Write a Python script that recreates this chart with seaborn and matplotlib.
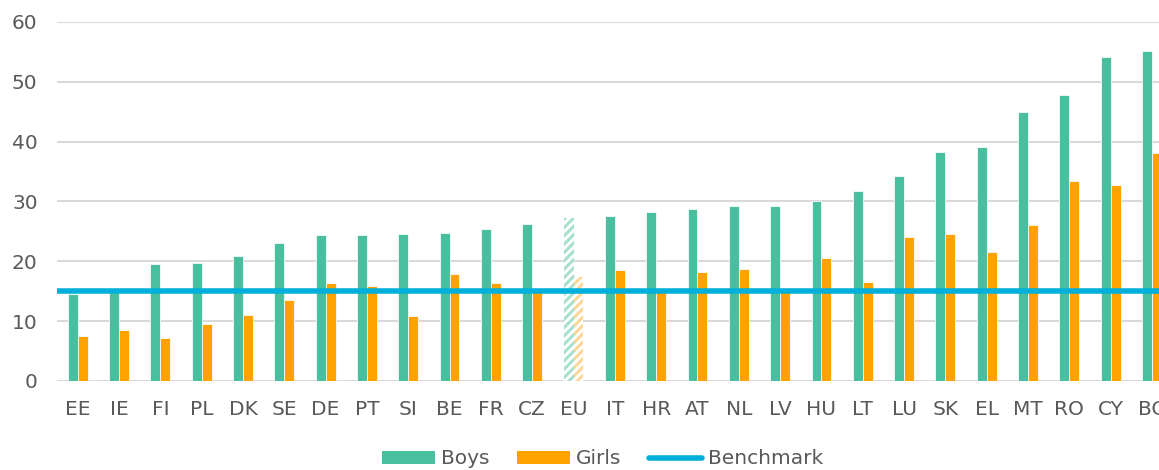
import matplotlib
matplotlib.use("Agg")
import matplotlib.pyplot as plt
from matplotlib.patches import Patch
from matplotlib.lines import Line2D
import seaborn as sns
import pandas as pd

# Share of low achievers by country and sex (%)
countries = ["EE", "IE", "FI", "PL", "DK", "SE", "DE", "PT", "SI", "BE", "FR", "CZ", "EU",
             "IT", "HR", "AT", "NL", "LV", "HU", "LT", "LU", "SK", "EL", "MT", "RO", "CY", "BG"]
boys = [14.5, 14.8, 19.6, 19.7, 20.9, 23.1, 24.4, 24.4, 24.6, 24.7, 25.4, 26.3, 27.3,
        27.6, 28.2, 28.8, 29.3, 29.3, 30.0, 31.7, 34.2, 38.3, 39.1, 44.9, 47.8, 54.2, 55.1]
girls = [7.6, 8.5, 7.2, 9.6, 11.0, 13.5, 16.3, 15.9, 10.8, 17.8, 16.3, 14.8, 17.4,
         18.6, 14.8, 18.2, 18.7, 15.6, 20.5, 16.5, 24.1, 24.5, 21.5, 26.0, 33.4, 32.7, 38.1]
benchmark = 15
series_names = ["Boys", "Girls"]
y_ticks = [0, 10, 20, 30, 40, 50, 60]

BOYS_C = "#48BF9F"
GIRLS_C = "#FFA200"
BENCH_C = "#00B0DA"
TEXT_C = "#595959"
GRID_C = "#D9D9D9"

df = pd.DataFrame({
    "country": countries * 2,
    "value": boys + girls,
    "sex": [series_names[0]] * len(countries) + [series_names[1]] * len(countries),
})

sns.set_style("white")
plt.rcParams["font.family"] = ["DejaVu Sans"]
plt.rcParams["hatch.linewidth"] = 2.2

fig = plt.figure(figsize=(11.59, 4.70), dpi=100)
# axes run slightly past the right edge of the figure
ax = fig.add_axes([0.0492, 0.1894, 0.9626, 0.7638])

sns.barplot(data=df, x="country", y="value", hue="sex", order=countries,
            hue_order=series_names, palette=[BOYS_C, GIRLS_C], saturation=1,
            width=0.48, gap=0, dodge=True, errorbar=None, legend=False,
            edgecolor="#F4FBF9", linewidth=0.6, ax=ax, zorder=2)

# EU average bars drawn as light hatched bars
eu_idx = countries.index("EU")
n = len(countries)
light = ["#A8E0D0", "#FFD699"]
for k, cont in enumerate(ax.containers):
    bar = cont.patches[eu_idx]
    bar.set_facecolor("white")
    bar.set_edgecolor(light[k])
    bar.set_linewidth(0)
    bar.set_hatch("////")

ax.axhline(benchmark, color=BENCH_C, linewidth=4, zorder=3)

ax.set_ylim(0, 60)
ax.set_xlim(-0.5, n - 0.5)
ax.set_yticks(y_ticks)
ax.yaxis.grid(True, color=GRID_C, linewidth=1.5, zorder=0)
ax.xaxis.grid(False)
ax.set_axisbelow(True)
for s in ax.spines.values():
    s.set_visible(False)
ax.set_xlabel("")
ax.set_ylabel("")
ax.tick_params(axis="y", length=0, pad=14, labelsize=14.5, labelcolor=TEXT_C)
ax.tick_params(axis="x", length=0, pad=14, labelsize=14.5, labelcolor=TEXT_C)

handles = [
    Patch(facecolor=BOYS_C, edgecolor="none", label="Boys"),
    Patch(facecolor=GIRLS_C, edgecolor="none", label="Girls"),
    Line2D([], [], color=BENCH_C, linewidth=4, solid_capstyle="round", label="Benchmark"),
]
leg = fig.legend(handles=handles, loc="lower center", bbox_to_anchor=(0.52, -0.035),
                 ncol=3, frameon=False, fontsize=14.5, handlelength=2.6,
                 handleheight=0.6, handletextpad=0.3, columnspacing=1.4)
for t in leg.get_texts():
    t.set_color(TEXT_C)

fig.savefig("out.png", dpi=100)
